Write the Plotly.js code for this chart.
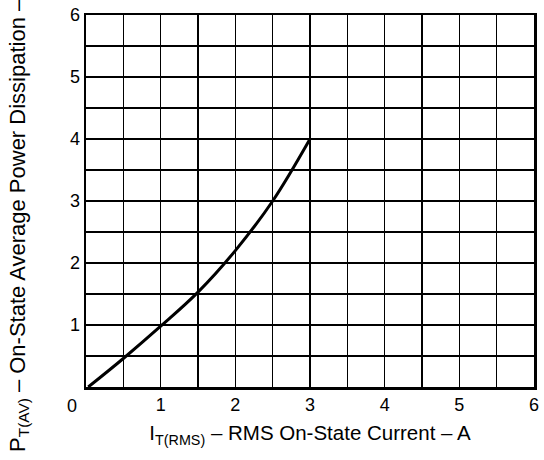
<!DOCTYPE html>
<html>
<head>
<meta charset="utf-8">
<script src="https://cdn.plot.ly/plotly-3.0.1.min.js"></script>
<style>html,body{margin:0;padding:0;background:#fff;}#chart{width:544px;height:460px;}</style>
</head>
<body>
<div id="chart"></div>
<script>
// Curve
var current = [0.03, 0.5, 1.0, 1.5, 2.0, 2.5, 3.0];
var power   = [0.0, 0.46, 0.98, 1.53, 2.2, 3.0, 4.0];

var xTickVals = [1, 2, 3, 4, 5, 6];
var xTickText = ['1', '2', '3', '4', '5', '6'];
var yTickVals = [1, 2, 3, 4, 5, 6];
var yTickText = ['1', '2', '3', '4', '5', '6'];
var originLabel = '0';

var xTitle = 'I<sub>T(RMS)</sub> – RMS On-State Current – A';
var yTitle = 'P<sub>T(AV)</sub> – On-State Average Power Dissipation – W';

var font = 'Liberation Sans, Arial, sans-serif';

var trace = {
  x: current, y: power, type: 'scatter', mode: 'lines',
  line: {color: '#000', width: 3, shape: 'spline', smoothing: 1},
  hoverinfo: 'skip'
};

var axisCommon = {
  range: [0, 6],
  showgrid: true, gridcolor: '#000', gridwidth: 1.3,
  minor: {dtick: 0.5, tick0: 0, showgrid: true, gridcolor: '#000', gridwidth: 1.3, ticks: ''},
  showline: true, linecolor: '#000', linewidth: 2.5, mirror: true,
  zeroline: false, ticks: '', fixedrange: true,
  tickfont: {family: font, size: 18, color: '#000'}
};

var layout = {
  width: 544, height: 460,
  margin: {l: 86, r: 10, t: 15, b: 73},
  paper_bgcolor: '#fff', plot_bgcolor: '#fff',
  showlegend: false,
  xaxis: Object.assign({}, axisCommon, {
    tickmode: 'array', tickvals: xTickVals, ticktext: xTickText,
    title: {text: xTitle, font: {family: font, size: 20.5, color: '#000'}, standoff: 12}
  }),
  yaxis: Object.assign({}, axisCommon, {
    tickmode: 'array', tickvals: yTickVals, ticktext: yTickText
  }),
  annotations: [
    {text: originLabel, xref: 'paper', yref: 'paper', x: -0.032, y: -0.05,
     showarrow: false, font: {family: font, size: 18, color: '#000'}, xanchor: 'center', yanchor: 'middle'},
    {text: yTitle, xref: 'paper', yref: 'paper', x: -0.150, y: 0.47,
     textangle: -90, showarrow: false, font: {family: font, size: 22, color: '#000'},
     xanchor: 'center', yanchor: 'middle'}
  ]
};

Plotly.newPlot('chart', [trace], layout, {displayModeBar: false, staticPlot: true});
</script>
</body>
</html>
